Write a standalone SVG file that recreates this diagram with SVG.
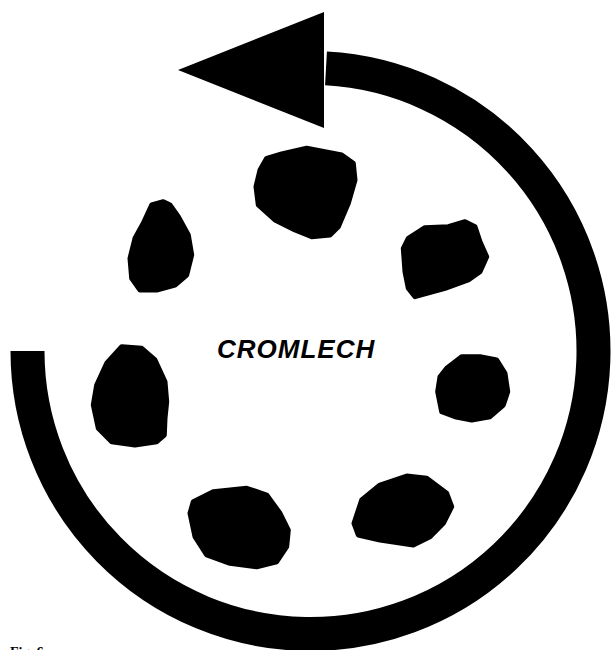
<svg xmlns="http://www.w3.org/2000/svg" width="615" height="650" viewBox="0 0 615 650">
<style>
.stone{fill:#000;stroke:#000;stroke-width:5;stroke-linejoin:round}
.label{font-family:"Liberation Sans",Arial,sans-serif;font-weight:bold;font-style:italic;font-size:26px;letter-spacing:1px;fill:#000}
.fig{font-family:"Liberation Serif","Times New Roman",serif;font-weight:bold;font-size:14px;fill:#000}
</style>
<rect width="615" height="650" fill="#fff"/>
<g id="connectors">
<path id="arc" d="M 27.5 351 A 283 283 0 1 0 326 68.4" fill="none" stroke="#000" stroke-width="34"/>
<polygon id="arrowhead" points="178,70 324,12 324,128" fill="#000"/>
</g>
<g id="stone-top"><polygon class="stone" points="266.7,158.3 281.7,154 306.7,148.3 341.7,155 353.3,163.3 355,180 348.3,203.3 338.3,226.7 330,235 311.7,236.7 295,230 275,220 258.3,205 256,186.7 260,170"/></g>
<g id="stone-upper-left"><polygon class="stone" points="151.7,205 163.3,201.7 170,205 178.3,216.7 188.3,235 191.7,255 186.7,275 175,285 156.7,290 140,290 131.7,278.3 130,258.3 135,238.3 143.3,223.3"/></g>
<g id="stone-upper-right"><polygon class="stone" points="408.3,238.3 425,227.7 448.3,226.7 465,221.7 475,226.7 480,241.7 486.7,256.7 480,271.7 468.3,280 445,288.3 415,296.7 408.3,288.3 405,271.7 403.3,248.3"/></g>
<g id="stone-left"><polygon class="stone" points="121.7,346.7 141.7,348.3 155,360 165,381.7 166.7,401.7 165,418.3 164.3,435 156.7,441.7 135,445 111.7,441.7 98.3,428.3 93.3,405 96.7,385 106.7,363.3"/></g>
<g id="stone-right"><polygon class="stone" points="446.7,368.3 461.7,356.7 480,356.7 496.7,360 505,373.3 507.7,391.7 503.3,405 490,416.7 471.7,420 455,416.7 441.7,411.7 437.7,391.7 440,376.7"/></g>
<g id="stone-bottom-left"><polygon class="stone" points="193.3,501.7 213.3,491.7 246.7,488.3 266.7,495 280,513.3 288.3,530 286.7,546.7 276.7,561.7 256.7,566.7 230,563.3 206.7,555 195,536.7 190,513.3"/></g>
<g id="stone-bottom-right"><polygon class="stone" points="361.7,500 380,485 406.7,476 426.7,478.3 446.7,493.3 451.7,506.7 443.3,523.3 430,536.7 413.3,545 380,540 358.3,535 354,523.3"/></g>
<g id="label"><text class="label" x="217" y="358">CROMLECH</text></g>
<g id="caption"><text class="fig" x="10" y="657">Fig. 6</text></g>
</svg>
